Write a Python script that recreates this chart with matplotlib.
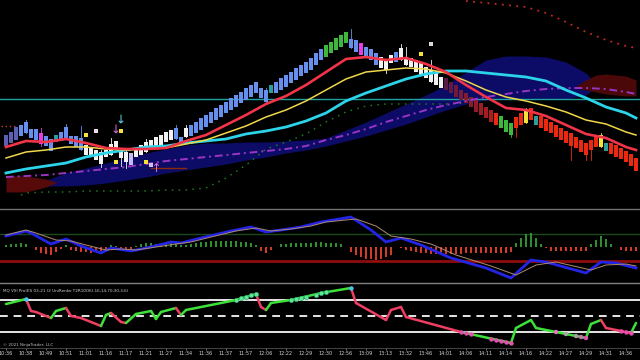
import numpy as np
import matplotlib
matplotlib.use("Agg")
import matplotlib.pyplot as plt
from matplotlib.collections import LineCollection
from matplotlib.colors import to_rgb

# ---------------- price panel (chart units: 0 = top of chart) ----------------
body_top = [135,132,127,125,122,129,129,133,136,139,
            135,132,127,136,136,138,145,147,150,152,
            150,144,141,150,152,153,148,145,142,140,
            137,135,132,130,128,137,128,125,122,118,
            115,112,108,105,102,98,95,92,88,85,
            82,88,90,85,82,78,75,72,68,65,
            62,58,53,49,45,42,38,35,32,39,
            40,43,47,49,53,57,60,55,52,48,
            57,58,60,63,67,70,73,77,78,82,
            85,90,93,97,100,103,107,110,113,116,
            120,123,117,113,111,108,116,116,119,122,
            125,128,131,133,137,140,143,140,135,135,
            143,143,145,148,151,154,158]
body_bot = [146,143,140,136,133,138,140,144,146,151,
            142,141,138,144,147,150,155,157,160,164,
            157,155,148,158,162,165,157,155,152,150,
            147,145,142,140,139,142,137,136,133,130,
            127,123,120,117,113,110,107,103,100,97,
            93,98,102,93,93,90,87,83,80,76,
            73,70,65,60,57,53,50,47,43,48,
            52,55,57,60,65,68,70,63,62,60,
            65,67,72,75,78,82,85,88,90,93,
            97,100,103,107,112,115,118,122,125,128,
            132,135,128,125,123,120,125,128,131,133,
            137,140,143,146,148,152,155,150,147,147,
            151,154,157,159,162,166,171]
bar_runs = [("S",3),("B",4),("M",1),("B",2),("T",1),("B",5),("W",9),("L",1),
            ("W",8),("B",2),("W",1),("B",16),("T",1),("B",10),("G",5),("B",2),
            ("M",1),("B",3),("W",3),("B",1),("W",9),("D",10),("R",1),("G",3),
            ("R",2),("Y",1),("R",1),("T",1),("R",12),("Y",1),("T",1),("R",6)]
wick_i  = [4, 7, 12, 15, 19, 21, 23, 24, 28, 34, 36, 52, 69, 76, 79, 80, 85, 101, 102, 104, 113, 116, 117, 119]
wick_hi = [120,128,124,126,150,138,148,150,139,125,125,88,29,60,44,47,60,123,117,108,133,143,140,133]
wick_lo = [133,146,138,150,167,155,166,168,152,139,137,104,48,73,60,65,82,137,137,123,160,160,160,147]

ma_i = [0,4,8,12,16,20,24,28,32,36,40,44,48,52,56,60,64,68,72,76,80,84,88,92,96,100,104,108,112,116,120,124,126]
red_ma    = [147,141,142,139,143,148,149,149,148,141,135,125,115,104,96,85,72,59,57,60,58,64,72,85,97,108,110,116,125,134,138,147,150]
yellow_ma = [158,152,150,147,147,149,150,149,148,144,140,133,126,117,110,101,90,79,72,70,68,69,73,81,90,97,101,106,112,120,124,132,135]
cyan_ma   = [173,169,166,163,157,153,150,147,146,143,141,139,134,131,127,121,113,101,93,86,79,74,71,71,73,75,77,81,90,98,107,113,118]
magenta_ma= [177,176,175,173,171,169,167,164,161,159,157,155,153,151,149,146,140,135,129,122,116,110,105,101,97,94,91,89,88,88,89,92,94]

green_dot_i = [3,4,8,12,16,20,24,28,32,36,40,44,48,52,56,60,64,68,72,76,80,84,88,92]
green_dot_v = [195,193,192,192,191,191,191,191,190,190,188,178,165,149,142,134,122,112,106,104,104,104,104,103]
red_dot_i = [92,96,100,104,108,112,116,120,124,126]
red_dot_v = [1,3,5,7,13,22,32,40,46,48]

cloud_i   = [8,12,16,20,24,28,32,36,40,44,48,52,56,60,64,68,72,76,80,84,88,92,96,100,104,108,112,116,118]
cloud_top = [180,173,168,163,158,153,149,145,143,143,142,142,141,140,138,130,122,113,104,95,85,72,60,56,56,57,62,73,84]
cloud_bot = [186,186,185,183,180,177,173,170,167,164,160,157,153,150,146,141,136,130,124,117,110,104,100,99,99,99,99,95,88]
rcloud_left_i = [0,4,8,10]
rcloud_left_top = [176,176,179,182]
rcloud_left_bot = [192,192,187,183]
rcloud_right_i = [114,116,118,120,124,126]
rcloud_right_top = [86,80,75,74,76,80]
rcloud_right_bot = [88,90,92,94,96,96]
level_line = 99
stop_i, stop_v = [29, 36], [168, 168]
left_dot_i, left_dot_v = [-1, 2], [126, 126]

yellow_sq_i = [16, 23, 22, 28, 83]
yellow_sq_v = [135, 131, 162, 162, 54]
light_sq_i = [18, 85, 29]
light_sq_v = [131, 44, 165]
arrow_dn_i, arrow_dn_v = [23, 22], [119, 129]
arrow_up_i, arrow_up_v = [30], [167]

# ---------------- middle panel ----------------
blue_i = [0,4,5,9,12,15,19,21,25,29,33,35,39,45,49,52,55,59,63,69,73,76,79,83,89,96,101,105,108,116,119,122,126]
blue_v = [236,231,233,244,239,246,253,248,251,247,242,243,238,231,227,232,230,227,222,217,230,242,238,245,258,268,278,260,262,273,262,263,268]
tan_i = [0,4,6,10,13,16,20,23,26,30,34,37,41,46,50,53,57,61,64,70,74,77,81,85,90,97,102,106,110,117,120,124,126]
tan_v = [235,230,233,240,241,245,250,249,250,247,244,242,237,231,228,231,229,226,222,219,226,236,239,244,255,266,275,265,262,270,265,264,266]
hist = [2,3,3,4,3,0,-3,-6,-7,-8,
        -5,-2,2,-3,-4,-5,-5,-6,-5,-4,
        -2,2,1,-2,-3,-2,1,3,4,4,
        3,3,4,5,4,2,2,3,4,5,
        5,6,6,6,6,6,6,5,5,4,
        2,-4,-6,-3,0,3,3,4,4,4,
        4,4,5,5,4,4,4,3,0,-5,
        -8,-10,-12,-12,-13,-12,-10,-8,0,-1,
        -3,-4,-5,-6,-6,-7,-7,-7,-7,-7,
        -7,-7,-6,-6,-6,-6,-6,-6,-6,-6,
        -6,-5,4,9,13,14,9,3,-1,-4,
        -4,-4,-4,-4,-4,-4,-4,3,7,11,
        8,3,0,-3,-4,-4,-4]
hist_base = 247
green_level = 234
red_level = 261

# ---------------- lower panel (VSI) ----------------
vsi_i = [0,4,5,6,9,10,12,13,15,19,20,21,23,24,26,29,30,31,34,35,36,46,50,51,52,53,57,63,69,70,76,77,79,80,91,101,102,105,106,116,117,119,120,124,125,126]
vsi_v = [304,299,311,312,318,311,308,316,318,326,315,313,322,323,314,311,319,312,308,315,310,300,294,307,310,303,300,293,288,303,320,310,307,317,332,343,328,320,328,338,324,320,328,332,333,323]
vsi_c = "-grrrggrrrggrrgggggrgggrrggggrrrrrrgggggggrrrg"
vsi_g_dot_i = [46,47,48,49,50,57,58,59,60,62,63,64]
vsi_g_dot_v = [300,298.5,297,295.5,294,300,299,298,297,295,293,292]
vsi_c_dot_i = [4, 69]
vsi_c_dot_v = [299, 288]
vsi_m_dot_i = [91,92,93,97,98,99,100,101,123,124,125]
vsi_m_dot_v = [332,333,334,338.6,339.7,340.8,341.9,343,331,332,333]
vsi_p_dot_i = [110,112,114,115,116]
vsi_p_dot_v = [332,334,336,337,338]
vsi_levels = [300, 316, 332]

times = ["10:36","10:38","10:49","10:51","11:01","11:16","11:17","11:21","11:27","11:34",
         "11:36","11:37","11:57","12:06","12:22","12:29","12:30","12:56","13:09","13:13",
         "13:32","13:46","14:01","14:06","14:11","14:14","14:16","14:22","14:27","14:29",
         "14:31","14:36"]
title_txt = "MQ VSI Pro(ES 03-21 (2 UniRenko T2R10O6),16,14,70,30,3,6)"
copy_txt = "\u00a9 2021 NinjaTrader, LLC"

# ---------------- drawing ----------------
H = 360.0
fig = plt.figure(figsize=(6.4, 3.6), dpi=100, facecolor="black")
ax1 = fig.add_axes([0, 1 - 208 / H, 1, 208 / H])
ax2 = fig.add_axes([0, 1 - 283 / H, 1, (283 - 209) / H])
ax3 = fig.add_axes([0, 1 - 348 / H, 1, (348 - 283) / H])
XL = (-1.2, 126.8)
for ax in (ax1, ax2, ax3):
    ax.set_facecolor("black")
    ax.set_xlim(*XL)
    ax.set_yticks([])
    for s in ax.spines.values():
        s.set_visible(False)
ax1.set_ylim(208, 0)
ax2.set_ylim(283, 209)
ax3.set_ylim(348, 283)
ax1.set_xticks([]); ax2.set_xticks([])

# clouds
ax1.fill_between(cloud_i, cloud_top, cloud_bot, color="#0c0c66", lw=0, zorder=1)
ax1.fill_between(rcloud_left_i, rcloud_left_top, rcloud_left_bot, color="#560a0a", lw=0, zorder=1)
ax1.fill_between(rcloud_right_i, rcloud_right_top, rcloud_right_bot, color="#4a0808", lw=0, zorder=1)
ax1.axhline(level_line, color="#1fa3a3", lw=1.0, zorder=2)

# candles
cmap = {"S": "#5d5fb2", "B": "#6690ee", "M": "#e43ee6", "T": "#2a9f9c", "W": "#f2f2f2",
        "L": "#c9b9f2", "G": "#3cb83c", "R": "#ec2810", "Y": "#f2e23a"}
kinds = []
for k, n in bar_runs:
    kinds += [k] * n
nD = kinds.count("D")
colors = []
dk = 0
c0, c1 = np.array(to_rgb("#5a1a44")), np.array(to_rgb("#b01c1c"))
for k in kinds:
    if k == "D":
        t = dk / max(nD - 1, 1)
        colors.append(tuple(c0 * (1 - t) + c1 * t))
        dk += 1
    else:
        colors.append(cmap[k])
idx = np.arange(len(body_top))
top = np.array(body_top, float)
bot = np.array(body_bot, float)
for wi, hi, lo in zip(wick_i, wick_hi, wick_lo):
    ax1.plot([wi, wi], [hi, lo], color=colors[wi], lw=0.6, zorder=3)
ax1.bar(idx, bot - top, bottom=top, width=0.72, color=colors, lw=0, zorder=4)

# indicator lines
ax1.plot(green_dot_i, green_dot_v, color="#1e7a1e", lw=1.1, ls=(0, (1, 3.5)), zorder=5)
ax1.plot(red_dot_i, red_dot_v, color="#c42828", lw=1.3, ls=(0, (1, 3)), zorder=5)
ax1.plot(ma_i, magenta_ma, color="#9a34c4", lw=1.4, ls=(0, (4, 2, 1, 2)), zorder=5)
ax1.plot(ma_i, cyan_ma, color="#2cd4ea", lw=2.0, zorder=6)
ax1.plot(ma_i, yellow_ma, color="#f0d84a", lw=1.1, zorder=6)
ax1.plot(ma_i, red_ma, color="#f23448", lw=1.9, zorder=7)
ax1.plot(stop_i, stop_v, color="#8a2a08", lw=1.0, zorder=5)
ax1.plot(left_dot_i, left_dot_v, color="#c04040", lw=1.0, ls=(0, (1, 2)), zorder=5)

ax1.scatter(yellow_sq_i, yellow_sq_v, marker="s", s=9, color="#f2e23a", lw=0, zorder=8)
ax1.scatter(light_sq_i, light_sq_v, marker="s", s=9, color=["#ecdcec", "#d8d8d8", "#d0c0f0"], lw=0, zorder=8)
ax1.scatter(arrow_dn_i, arrow_dn_v, marker=r"$\downarrow$", s=40, color=["#5ad0e8", "#d870d8"], lw=0, zorder=8)
ax1.scatter(arrow_up_i, arrow_up_v, marker=r"$\uparrow$", s=40, color=["#e070d8"], lw=0, zorder=8)

# middle panel
ax2.axhline(green_level, color="#1c4a1c", lw=1.0, zorder=1)
ax2.axhline(red_level, color="#8e0c0c", lw=2.0, zorder=1)
h = np.array(hist, float)
hcol = ["#2f8f2f" if v > 0 else "#d23a2a" for v in h]
ax2.bar(idx, -h, bottom=hist_base, width=0.22, color=hcol, lw=0, zorder=2)
ax2.plot(blue_i, blue_v, color="#2424e6", lw=2.0, zorder=3)
ax2.plot(tan_i, tan_v, color="#b08a70", lw=0.7, zorder=4)
ax2.spines["top"].set_visible(True)
ax2.spines["top"].set_color("#707070")
ax2.spines["top"].set_linewidth(1.0)

# lower panel
for k, lv in enumerate(vsi_levels):
    ax3.axhline(lv, color="#e6e6e6", lw=1.4, ls="-" if k != 1 else (0, (4, 3)), zorder=1)
segs, scol = [], []
for j in range(1, len(vsi_i)):
    segs.append([(vsi_i[j - 1], vsi_v[j - 1]), (vsi_i[j], vsi_v[j])])
    scol.append("#3ee03a" if vsi_c[j] == "g" else "#ee3e62")
ax3.add_collection(LineCollection(segs, colors=scol, linewidths=1.8, zorder=3, capstyle="round"))
ax3.scatter(vsi_g_dot_i, vsi_g_dot_v, s=10, color="#5ce89a", edgecolor="#2aa060", lw=0.4, zorder=4)
ax3.scatter(vsi_c_dot_i, vsi_c_dot_v, s=10, color="#4ac4ee", lw=0, zorder=4)
ax3.scatter(vsi_m_dot_i, vsi_m_dot_v, s=10, color="#e84cb0", lw=0, zorder=4)
ax3.scatter(vsi_p_dot_i, vsi_p_dot_v, s=10, color=["#e07ab8", "#a8a8a8", "#a0a0a0", "#d070b0", "#e050b0"], lw=0, zorder=4)
ax3.text(0.004, 0.89, title_txt, transform=ax3.transAxes, color="#d0d0d0", fontsize=3.0,
         va="center", ha="left", family=["Liberation Sans Narrow", "DejaVu Sans"])
ax3.text(0.004, 0.04, copy_txt, transform=ax3.transAxes, color="#c0c0c0", fontsize=3.0,
         va="center", ha="left", family=["Liberation Sans Narrow", "DejaVu Sans"])
ax3.spines["top"].set_visible(True)
ax3.spines["top"].set_color("#808080")
ax3.spines["top"].set_linewidth(1.0)
ax3.spines["bottom"].set_visible(True)
ax3.spines["bottom"].set_color("#505050")
ax3.spines["bottom"].set_linewidth(0.6)
ax3.set_xticks(range(0, 4 * len(times), 4))
ax3.set_xticklabels(times, fontsize=3.6, color="#d4d4d4", family=["Liberation Sans Narrow", "DejaVu Sans"])
ax3.tick_params(axis="x", length=1.5, width=0.5, color="#a0a0a0", pad=0.8)

fig.savefig("out.png", dpi=100, facecolor="black")
